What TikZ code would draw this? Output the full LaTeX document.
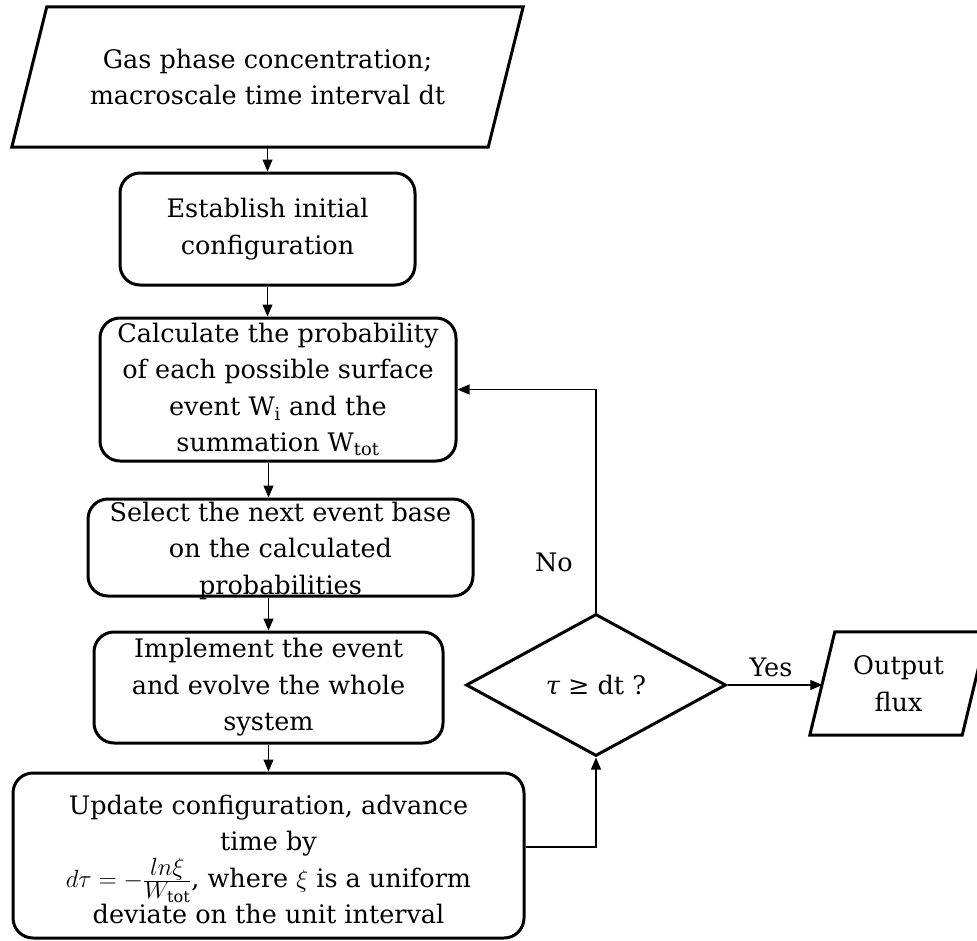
\documentclass[tikz,border=0pt]{standalone}
\usepackage{fontspec}
\setmainfont{DejaVu Serif}
\usetikzlibrary{shapes.geometric,arrows.meta}

\newcommand{\fracpart}[1]{\mbox{\fontsize{23pt}{23pt}\selectfont$#1$}}

\tikzset{
  box/.style={draw, line width=3pt, rounded corners=20pt, inner sep=0pt, align=center},
  io/.style={inner sep=0pt, align=center},
  ioframe/.style={line width=3pt, line join=miter},
  decision/.style={draw, line width=3pt, diamond, inner sep=0pt, align=center},
  txt/.style={align=center, inner sep=0pt},
  flow/.style={line width=1.1pt, -{Triangle[length=12pt,width=10pt]}},
}

\begin{document}
\begin{tikzpicture}[x=1pt, y=-1pt, font=\fontsize{25.5pt}{36.5pt}\selectfont]
    \useasboundingbox (0,0) rectangle (977,940);

    % main column
    \node[io, minimum width=476pt, minimum height=140pt] (input) at (267.5,77)
        {Gas phase concentration;\\macroscale time interval dt};
    \draw[ioframe] ([xshift=17.5pt]input.north west) -- ([xshift=17.5pt]input.north east)
        -- ([xshift=-17.5pt]input.south east) -- ([xshift=-17.5pt]input.south west) -- cycle;
    \node[box, minimum width=295pt, minimum height=112pt] (init) at (267.5,229)
        {Establish initial\\configuration};
    \node[box, minimum width=356pt, minimum height=143pt] (prob) at (278,389.5)
        {Calculate the probability\\of each possible surface\\event W\textsubscript{i} and the\\summation W\textsubscript{tot}};
    \node[box, minimum width=385pt, minimum height=97pt] (select) at (280.5,547.5) {};
    \node[txt] (selecttxt) at ([yshift=-3pt]select.center)
        {Select the next event base\\on the calculated\\probabilities};
    \node[box, minimum width=349pt, minimum height=111pt] (impl) at (268.5,687.5)
        {Implement the event\\and evolve the whole\\system};
    \node[box, minimum width=511pt, minimum height=165pt] (update) at (268.5,855.5) {};
    \node[txt] (updatetxt) at ([yshift=-4pt]update.center)
        {Update configuration, advance\\time by\\$d\tau=-\frac{\fracpart{ln\xi}}{\fracpart{W_{\mathrm{tot}}}}$, where $\xi$ is a uniform\\deviate on the unit interval};

    % decision and output
    \node[decision, minimum width=260pt, minimum height=142pt] (check) at (596,685) {{\itshape τ} ≥ dt ?};
    \node[io, minimum width=152pt, minimum height=103pt] (output) at (898.5,683.5) {Output\\flux};
    \draw[ioframe] ([xshift=12.5pt]output.north west) -- ([xshift=12.5pt]output.north east)
        -- ([xshift=-12.5pt]output.south east) -- ([xshift=-12.5pt]output.south west) -- cycle;
    \node (no) at (554,562) {No};
    \node (yes) at (771,667) {Yes};

    % connectors
    \draw[flow] (init.north |- input.south) -- (init.north);
    \draw[flow] (init.south) -- (init.south |- prob.north);
    \draw[flow] (prob.south -| impl.north) -- (select.north -| impl.north);
    \draw[flow] (select.south -| impl.north) -- (impl.north);
    \draw[flow] (impl.south) -- (update.north);
    \draw[flow] ([yshift=8.5pt]update.east) -| (check.south);
    \draw[flow] (check.north) |- (prob.east);
    \draw[flow] (check.east) -- (check.east -| output.west);
\end{tikzpicture}
\end{document}
